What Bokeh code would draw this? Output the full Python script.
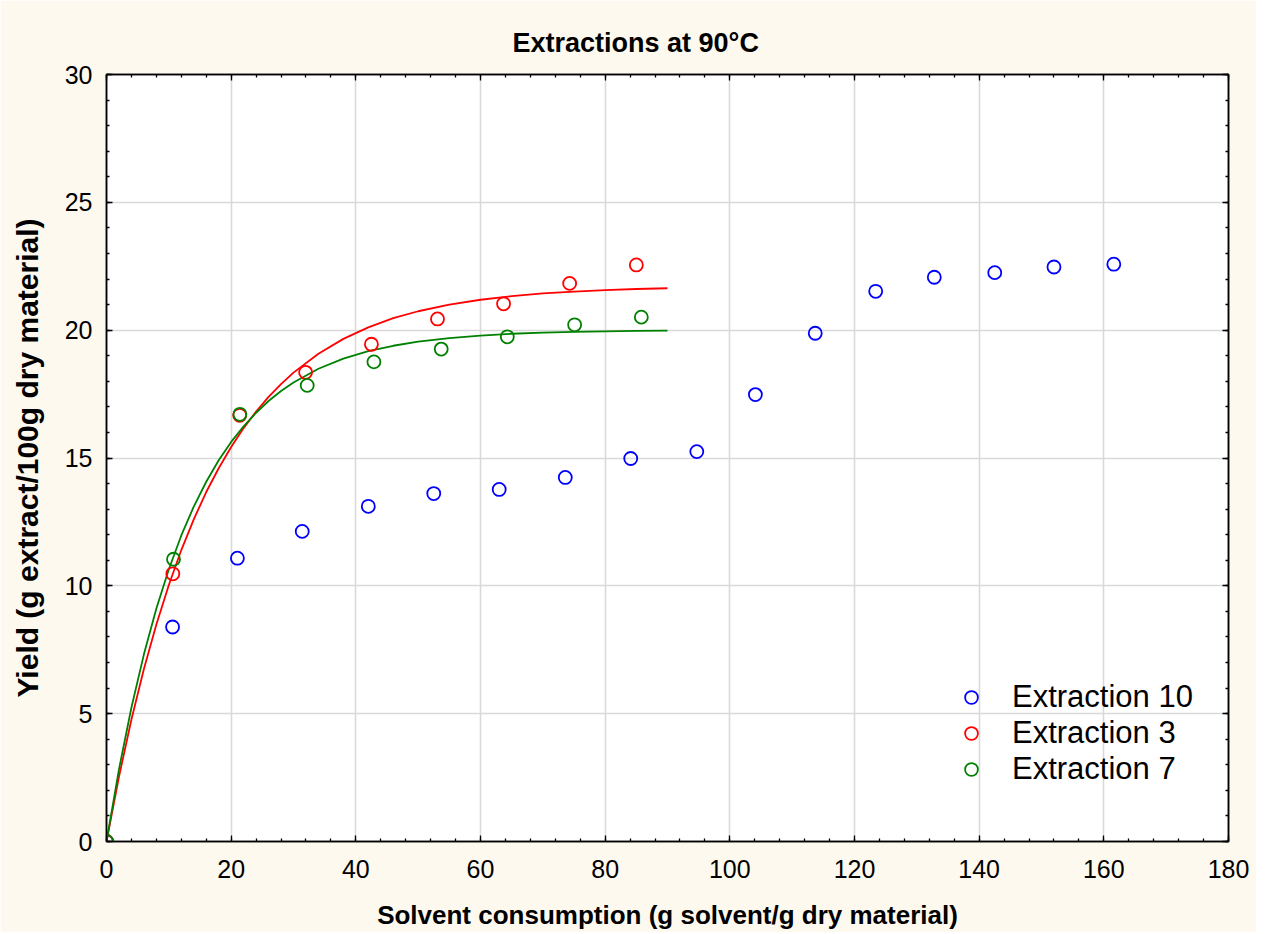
from bokeh.plotting import figure
from bokeh.models import (LinearAxis, FixedTicker, Legend, LegendItem, Range1d)
from bokeh.embed import file_html
from bokeh.resources import INLINE

# ---------------- data ----------------
ext10_x = [0, 10.6, 21.0, 31.4, 42.0, 52.5, 63.0, 73.6, 84.1, 94.7, 104.1, 113.7, 123.4, 132.8, 142.5, 152.0, 161.6]
ext10_y = [0, 8.39, 11.08, 12.13, 13.11, 13.61, 13.77, 14.24, 14.98, 15.25, 17.48, 19.88, 21.52, 22.07, 22.25, 22.47, 22.58]

ext3_x = [0, 10.64, 21.37, 31.94, 42.5, 53.1, 63.7, 74.3, 85.0]
ext3_y = [0, 10.47, 16.67, 18.35, 19.45, 20.44, 21.03, 21.83, 22.55]

ext7_x = [0, 10.75, 21.4, 32.2, 42.9, 53.7, 64.3, 75.1, 85.8]
ext7_y = [0, 11.04, 16.71, 17.84, 18.76, 19.26, 19.74, 20.21, 20.51]

# fitted curves
fit_x = [0, 2, 4, 6, 8, 10, 12, 14, 16, 18, 20, 22, 24, 26, 28, 30, 34, 38, 42, 46, 50, 55, 60, 65, 70, 75, 80, 85, 90]
fit3_y = [0, 2.53, 4.77, 6.75, 8.49, 10.03, 11.40, 12.60, 13.67, 14.60, 15.43, 16.17, 16.82, 17.39, 17.89, 18.34,
          19.08, 19.66, 20.11, 20.47, 20.74, 21.00, 21.19, 21.33, 21.44, 21.51, 21.57, 21.61, 21.64]
fit7_y = [0, 2.82, 5.24, 7.32, 9.11, 10.65, 11.97, 13.10, 14.07, 14.91, 15.63, 16.24, 16.77, 17.23, 17.62, 17.95,
          18.49, 18.89, 19.18, 19.39, 19.55, 19.69, 19.79, 19.86, 19.90, 19.93, 19.95, 19.97, 19.98]

x_ticks = [0, 20, 40, 60, 80, 100, 120, 140, 160, 180]
y_ticks = [0, 5, 10, 15, 20, 25, 30]
x_minor = list(range(0, 181, 4))
y_minor = list(range(0, 31, 1))

title_text = "Extractions at 90°C"
x_label = "Solvent consumption (g solvent/g dry material)"
y_label = "Yield (g extract/100g dry material)"
series_names = ["Extraction 10", "Extraction 3", "Extraction 7"]

FONT = "Liberation Sans"
BG = "#fdf9ef"

p = figure(width=1256, height=932, output_backend="svg", toolbar_location=None,
           x_range=Range1d(0, 180), y_range=Range1d(0, 30),
           min_border_left=106, min_border_right=28, min_border_top=74, min_border_bottom=89,
           x_axis_location=None, y_axis_location=None)
p.border_fill_color = BG
p.background_fill_color = "white"
p.outline_line_color = "black"
p.outline_line_width = 1.5

p.title.text = title_text
p.title.text_font = FONT
p.title.text_font_size = "27px"
p.title.text_font_style = "bold"
p.title.text_color = "black"
p.title.align = "left"
p.title.offset = 406
p.title.standoff = 34


def make_axis(cls_ticks, minor, show_labels, label=None, tick_standoff=12, label_standoff=16,
              label_size="26px"):
    ax = LinearAxis(ticker=FixedTicker(ticks=cls_ticks, minor_ticks=minor))
    ax.axis_line_color = "black"
    ax.axis_line_width = 1.5
    ax.major_tick_in = 6
    ax.major_tick_out = 0
    ax.minor_tick_in = 3
    ax.minor_tick_out = 0
    ax.major_tick_line_color = "black"
    ax.minor_tick_line_color = "black"
    ax.major_tick_line_width = 1.3
    ax.minor_tick_line_width = 1.3
    if show_labels:
        ax.major_label_text_font = FONT
        ax.major_label_text_font_size = "25px"
        ax.major_label_text_color = "black"
        ax.major_label_standoff = tick_standoff
        ax.axis_label = label
        ax.axis_label_text_font = FONT
        ax.axis_label_text_font_size = label_size
        ax.axis_label_text_font_style = "bold"
        ax.axis_label_text_color = "black"
        ax.axis_label_standoff = label_standoff
    else:
        ax.major_label_text_font_size = "0px"
        ax.major_label_text_alpha = 0
        ax.major_label_standoff = 0
    return ax


p.add_layout(make_axis(x_ticks, x_minor, True, x_label, tick_standoff=18, label_standoff=19), "below")
p.add_layout(make_axis(y_ticks, y_minor, True, y_label, tick_standoff=14, label_standoff=18,
                       label_size="30px"), "left")
p.add_layout(make_axis(x_ticks, x_minor, False), "above")
p.add_layout(make_axis(y_ticks, y_minor, False), "right")

p.xgrid.ticker = FixedTicker(ticks=x_ticks)
p.ygrid.ticker = FixedTicker(ticks=y_ticks)
for g in (p.xgrid, p.ygrid):
    g.grid_line_color = "#d9d9d9"
    g.grid_line_width = 1.6

# fitted curves
p.line(fit_x, fit3_y, line_color="#ff0000", line_width=1.8)
p.line(fit_x, fit7_y, line_color="#008000", line_width=1.8)

# points
r10 = p.scatter(ext10_x, ext10_y, marker="circle", size=13, fill_color=None,
                line_color="#0000ff", line_width=1.8)
r3 = p.scatter(ext3_x, ext3_y, marker="circle", size=13, fill_color=None,
               line_color="#ff0000", line_width=1.8)
r7 = p.scatter(ext7_x, ext7_y, marker="circle", size=13, fill_color=None,
               line_color="#008000", line_width=1.8)

legend = Legend(items=[LegendItem(label=series_names[0], renderers=[r10]),
                       LegendItem(label=series_names[1], renderers=[r3]),
                       LegendItem(label=series_names[2], renderers=[r7])],
                location=(849, 54), orientation="vertical")
legend.background_fill_alpha = 0
legend.border_line_color = None
legend.padding = 0
legend.margin = 0
legend.spacing = 0
legend.glyph_width = 32
legend.glyph_height = 32
legend.label_standoff = 25
legend.label_text_font = FONT
legend.label_text_font_size = "31px"
legend.label_text_color = "black"
legend.label_height = 32
p.add_layout(legend, "center")

open("out.html", "w").write(file_html(p, INLINE))
